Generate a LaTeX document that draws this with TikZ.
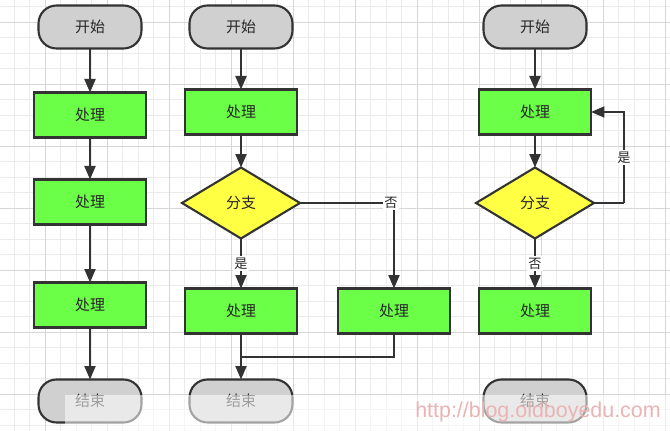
\documentclass[tikz,border=0pt]{standalone}
\usepackage{fontspec}
\usetikzlibrary{shapes.geometric,arrows.meta}
\newfontfamily\cjk{Noto Sans CJK SC}
\newfontfamily\wmfont{Liberation Sans}
\definecolor{lnc}{HTML}{333333}
\definecolor{boxgreen}{HTML}{6CFF48}
\definecolor{boxyellow}{HTML}{FFFF44}
\definecolor{boxgray}{HTML}{D0D0D0}
\definecolor{wmpink}{HTML}{E9B4B4}
\newcommand{\zh}[1]{{\cjk\fontsize{8.5}{10}\selectfont #1}}
\newcommand{\zhs}[1]{{\cjk\fontsize{7.5}{9}\selectfont #1}}

\begin{document}
\begin{tikzpicture}[x=0.02cm,y=-0.02cm,
   line width=1.2pt,
   flow/.style={draw=lnc,line width=1.2pt,-{Triangle[length=2.7mm,width=2.2mm]}},
   link/.style={draw=lnc,line width=1.2pt},
   term/.style={draw=lnc,fill=boxgray,rounded corners=0.36cm,minimum width=2.06cm,minimum height=0.86cm,outer sep=0pt,text=black!85},
   proc/.style={draw=lnc,fill=boxgreen,minimum width=2.24cm,minimum height=0.9cm,outer sep=0pt,text=black!85},
   branch/.style={diamond,draw=lnc,fill=boxyellow,minimum width=2.36cm,minimum height=1.42cm,inner sep=0pt,outer sep=0pt,text=black!85},
   lbl/.style={fill=white,inner sep=1pt,text=black!85}]
   % background and grid
   \useasboundingbox (0,0) rectangle (670,431);
   \fill[white] (0,0) rectangle (670,431);
   \foreach \k in {0,...,42} \draw[black!8,line width=0.4pt] ({14+15.5*\k},0) -- ({14+15.5*\k},431);
   \foreach \k in {0,...,27} \draw[black!8,line width=0.4pt] (0,{6.5+15.5*\k}) -- (670,{6.5+15.5*\k});
   \foreach \k in {2,6,...,42} \draw[black!16,line width=0.4pt] ({14+15.5*\k},0) -- ({14+15.5*\k},431);
   \foreach \k in {1,5,...,27} \draw[black!16,line width=0.4pt] (0,{6.5+15.5*\k}) -- (670,{6.5+15.5*\k});

   % first chart: sequence
   \node[term] (s1) at (90,27) {\zh{开始}};
   \node[proc] (p11) at (90,115) {\zh{处理}};
   \node[proc] (p12) at (90,202) {\zh{处理}};
   \node[proc] (p13) at (90,305) {\zh{处理}};
   \node[term] (e1) at (90,401) {\zh{结束}};
   \draw[flow] (s1) -- (p11);
   \draw[flow] (p11) -- (p12);
   \draw[flow] (p12) -- (p13);
   \draw[flow] (p13) -- (e1);

   % second chart: branch
   \node[term] (s2) at (241,27) {\zh{开始}};
   \node[proc] (p21) at (241,112) {\zh{处理}};
   \node[branch] (d2) at (241,203) {\zh{分支}};
   \node[proc] (p22) at (241,311) {\zh{处理}};
   \node[proc] (p23) at (394,311) {\zh{处理}};
   \node[term] (e2) at (241,401) {\zh{结束}};
   \coordinate (j2) at (241,357);
   \draw[flow] (s2) -- (p21);
   \draw[flow] (p21) -- (d2);
   \draw[flow] (d2) -- node[lbl] {\zhs{是}} (p22);
   \draw[flow] (d2.east) -| node[lbl,pos=0.5,xshift=-0.06cm] {\zhs{否}} (p23.north);
   \draw[link] (p23.south) |- (j2);
   \draw[flow] (p22) -- (e2);

   % third chart: loop
   \node[term] (s3) at (535,27) {\zh{开始}};
   \node[proc] (p31) at (535,112) {\zh{处理}};
   \node[branch] (d3) at (535,203) {\zh{分支}};
   \node[proc] (p32) at (535,311) {\zh{处理}};
   \node[term] (e3) at (535,401) {\zh{结束}};
   \coordinate (r3) at (624,203);
   \draw[flow] (s3) -- (p31);
   \draw[flow] (p31) -- (d3);
   \draw[flow] (d3) -- node[lbl] {\zhs{否}} (p32);
   \draw[link] (d3.east) -- (r3);
   \draw[flow] (r3) |- node[lbl,pos=0.25] {\zhs{是}} (p31.east);

   % faded band and watermark
   \fill[white,opacity=0.55] (65,395) rectangle (670,431);
   \node[text=wmpink] (wm) at (538,412) {\wmfont\fontsize{12.2}{14}\selectfont http://blog.oldboyedu.com};
\end{tikzpicture}
\end{document}
